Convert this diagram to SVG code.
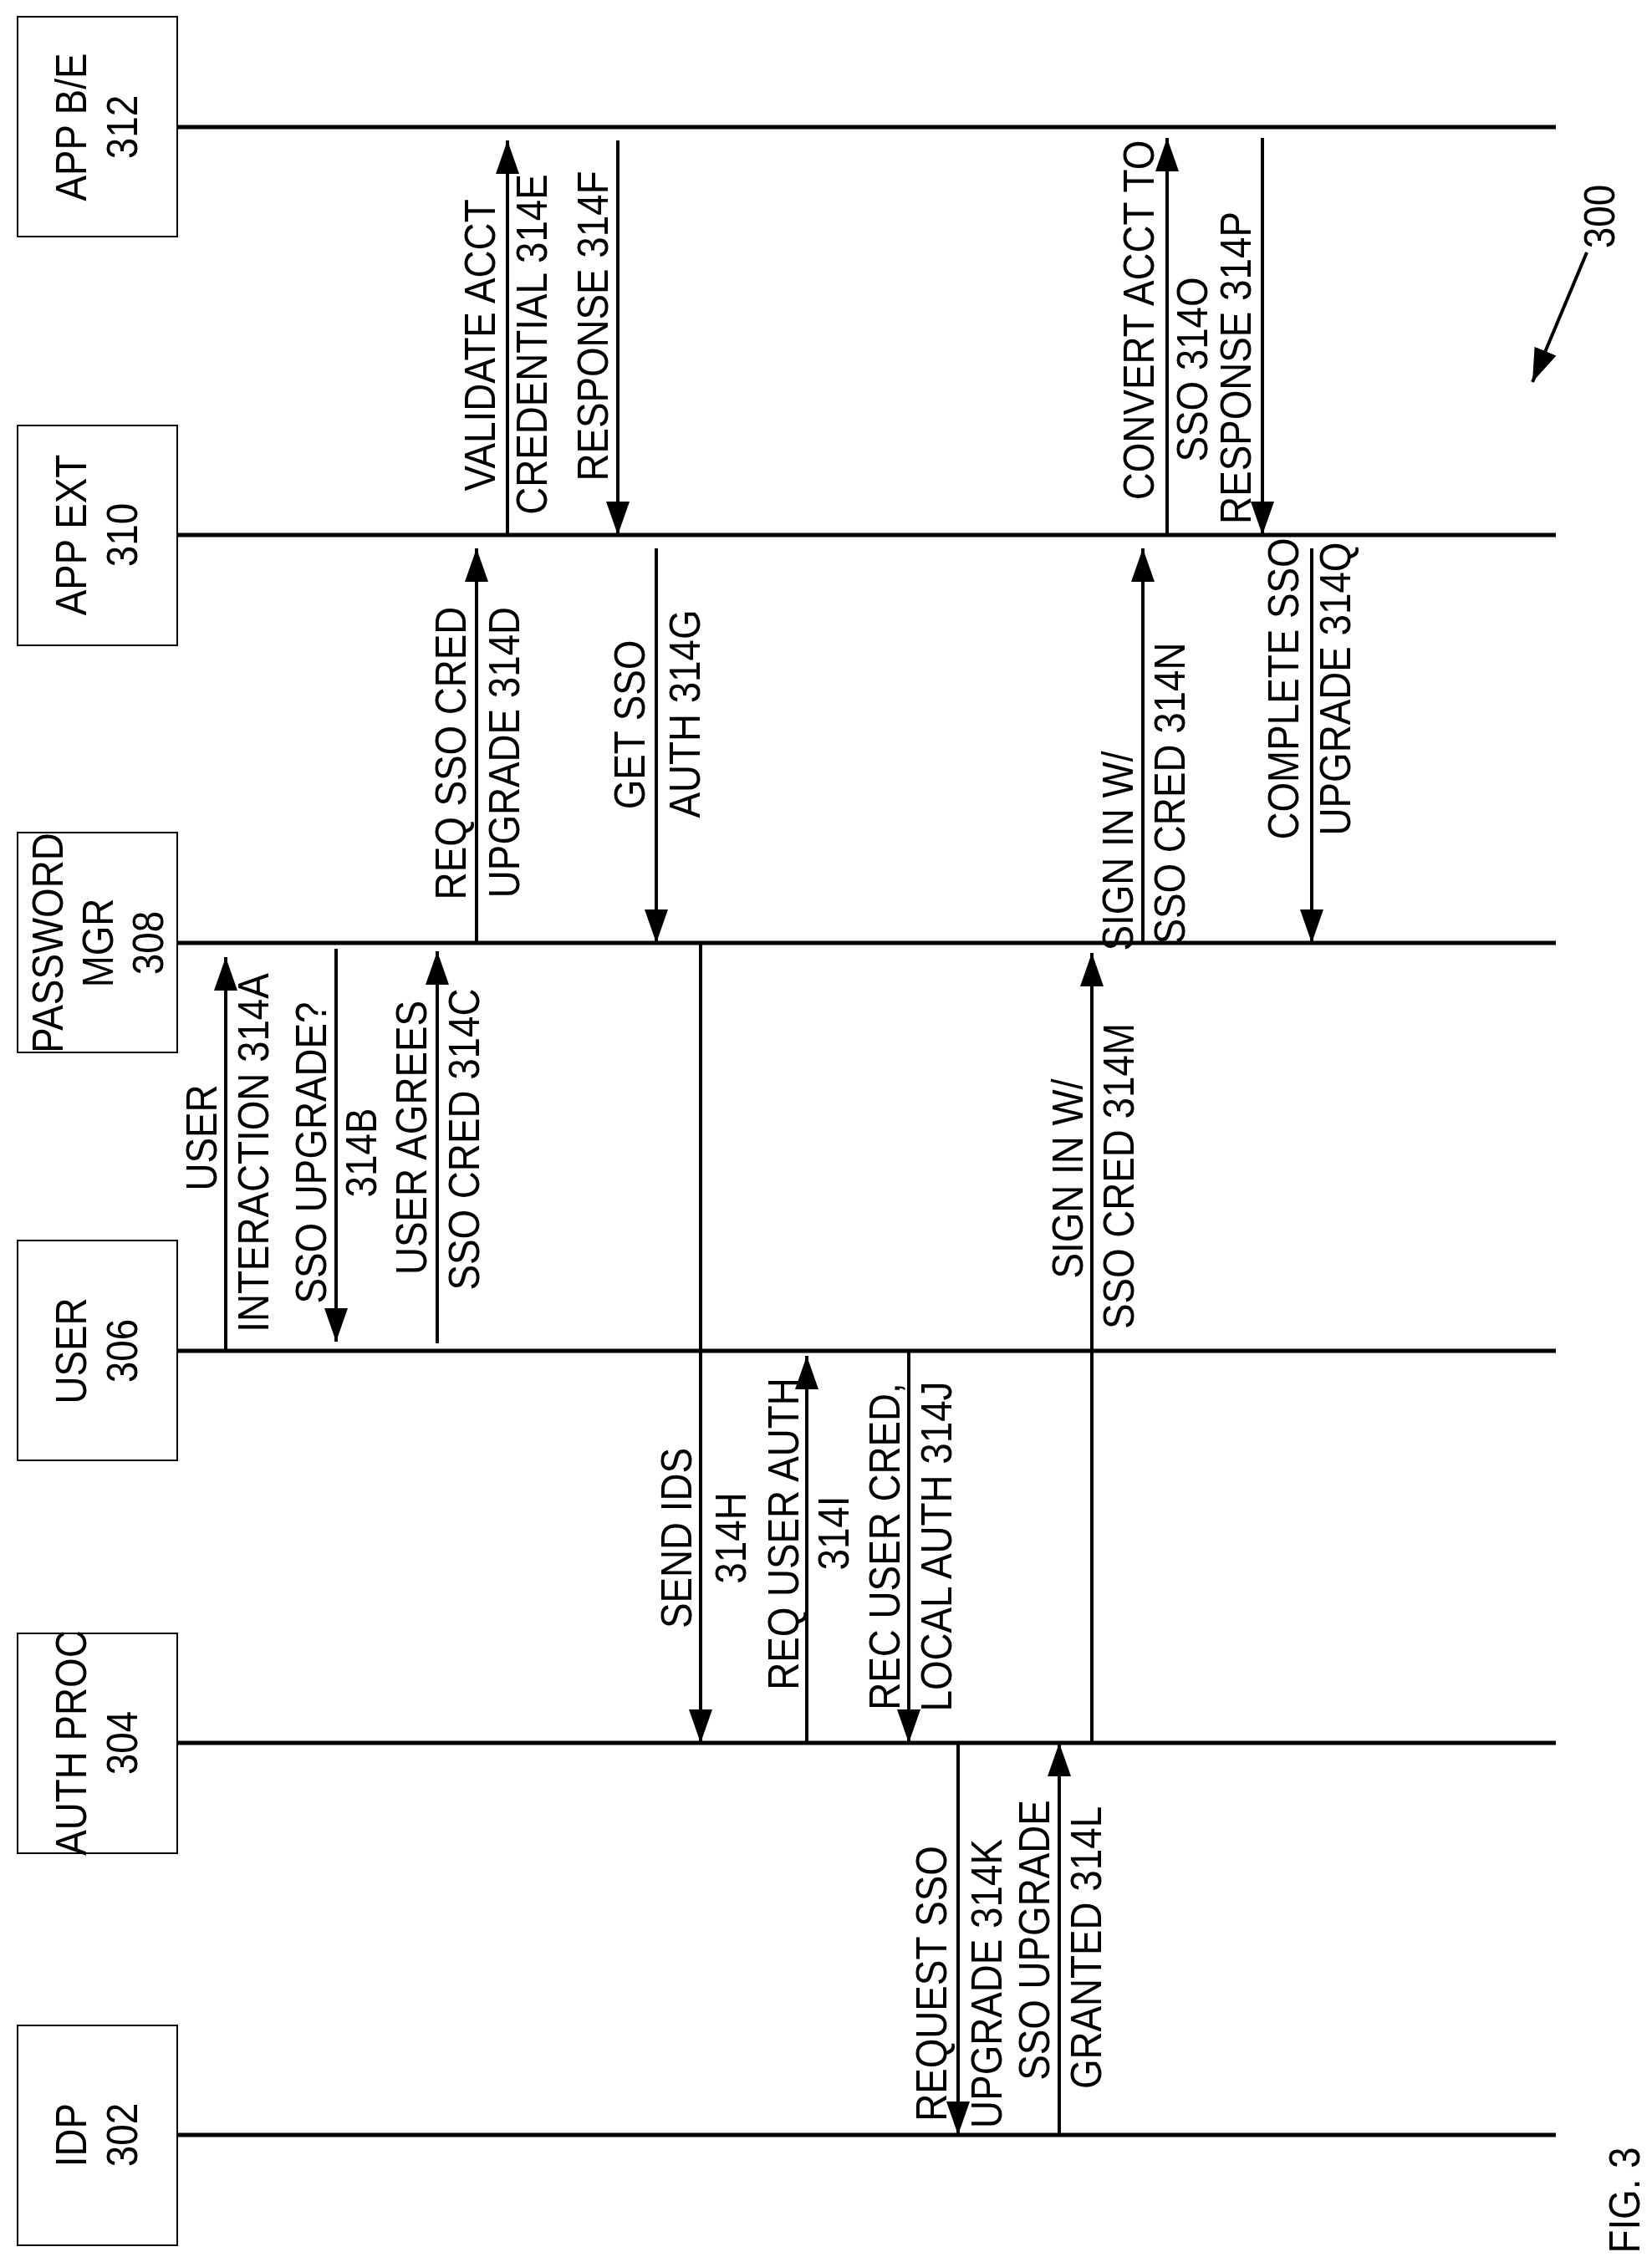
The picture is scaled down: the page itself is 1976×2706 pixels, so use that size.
<svg xmlns="http://www.w3.org/2000/svg" width="1976" height="2706" viewBox="0 0 1976 2706">
<style>
text{font-family:"Liberation Sans",Arial,sans-serif;font-size:52px;fill:#000;text-anchor:middle}
.box{fill:#fff;stroke:#000;stroke-width:2}
.life{stroke:#000;stroke-width:5}
.msg{stroke:#000;stroke-width:4;fill:none;marker-end:url(#ah)}
</style>
<defs>
<marker id="ah" markerUnits="userSpaceOnUse" markerWidth="40" markerHeight="28" refX="40" refY="14" orient="auto" viewBox="0 0 40 28"><path d="M0,0 L40,14 L0,28 z" fill="#000"/></marker>
</defs>
<rect width="1976" height="2706" fill="#fff"/>
<g id="n312"><rect class="box" x="21" y="20" width="191" height="263"/>
<text transform="translate(103,152) rotate(-90) scale(0.88,1)">APP B/E</text>
<text transform="translate(164,152) rotate(-90) scale(0.88,1)">312</text></g>
<g id="n310"><rect class="box" x="21" y="509" width="191" height="263"/>
<text transform="translate(103,640) rotate(-90) scale(0.88,1)">APP EXT</text>
<text transform="translate(164,640) rotate(-90) scale(0.88,1)">310</text></g>
<g id="n308"><rect class="box" x="21" y="996" width="191" height="263"/>
<text transform="translate(75,1128) rotate(-90) scale(0.88,1)">PASSWORD</text>
<text transform="translate(135,1128) rotate(-90) scale(0.88,1)">MGR</text>
<text transform="translate(195,1128) rotate(-90) scale(0.88,1)">308</text></g>
<g id="n306"><rect class="box" x="21" y="1484" width="191" height="263"/>
<text transform="translate(103,1616) rotate(-90) scale(0.88,1)">USER</text>
<text transform="translate(164,1616) rotate(-90) scale(0.88,1)">306</text></g>
<g id="n304"><rect class="box" x="21" y="1954" width="191" height="263"/>
<text transform="translate(103,2085) rotate(-90) scale(0.88,1)">AUTH PROC</text>
<text transform="translate(164,2085) rotate(-90) scale(0.88,1)">304</text></g>
<g id="n302"><rect class="box" x="21" y="2423" width="191" height="263"/>
<text transform="translate(103,2554) rotate(-90) scale(0.88,1)">IDP</text>
<text transform="translate(164,2554) rotate(-90) scale(0.88,1)">302</text></g>
<g id="lifelines">
<line class="life" x1="212" y1="152" x2="1861" y2="152"/>
<line class="life" x1="212" y1="640" x2="1861" y2="640"/>
<line class="life" x1="212" y1="1128" x2="1861" y2="1128"/>
<line class="life" x1="212" y1="1616" x2="1861" y2="1616"/>
<line class="life" x1="212" y1="2085" x2="1861" y2="2085"/>
<line class="life" x1="212" y1="2554" x2="1861" y2="2554"/>
</g>
<g id="connectors">
<line class="msg" x1="607" y1="640" x2="607" y2="168"/>
<line class="msg" x1="739" y1="168" x2="739" y2="640"/>
<line class="msg" x1="1396" y1="640" x2="1396" y2="165"/>
<line class="msg" x1="1510" y1="165" x2="1510" y2="640"/>
<line class="msg" x1="570" y1="1128" x2="570" y2="656"/>
<line class="msg" x1="785" y1="656" x2="785" y2="1128"/>
<line class="msg" x1="1367" y1="1128" x2="1367" y2="656"/>
<line class="msg" x1="1569" y1="656" x2="1569" y2="1128"/>
<line class="msg" x1="270" y1="1616" x2="270" y2="1145"/>
<line class="msg" x1="402" y1="1135" x2="402" y2="1605"/>
<line class="msg" x1="523" y1="1607" x2="523" y2="1138"/>
<line class="msg" x1="838" y1="1128" x2="838" y2="2085"/>
<line class="msg" x1="965" y1="2085" x2="965" y2="1622"/>
<line class="msg" x1="1087" y1="1616" x2="1087" y2="2085"/>
<line class="msg" x1="1306" y1="2085" x2="1306" y2="1140"/>
<line class="msg" x1="1146" y1="2085" x2="1146" y2="2554"/>
<line class="msg" x1="1267" y1="2554" x2="1267" y2="2085"/>
<line class="msg" x1="1898" y1="302" x2="1833" y2="457"/>
</g>
<g id="labels">
<text transform="translate(592,413) rotate(-90) scale(0.88,1)">VALIDATE ACCT</text>
<text transform="translate(654,412) rotate(-90) scale(0.88,1)">CREDENTIAL 314E</text>
<text transform="translate(727,390) rotate(-90) scale(0.88,1)">RESPONSE 314F</text>
<text transform="translate(1380,383) rotate(-90) scale(0.88,1)">CONVERT ACCT TO</text>
<text transform="translate(1444,442) rotate(-90) scale(0.88,1)">SSO 314O</text>
<text transform="translate(1496,440) rotate(-90) scale(0.88,1)">RESPONSE 314P</text>
<text transform="translate(557,901) rotate(-90) scale(0.88,1)">REQ SSO CRED</text>
<text transform="translate(621,900) rotate(-90) scale(0.88,1)">UPGRADE 314D</text>
<text transform="translate(771,867) rotate(-90) scale(0.88,1)">GET SSO</text>
<text transform="translate(837,854) rotate(-90) scale(0.88,1)">AUTH 314G</text>
<text transform="translate(1355,1018) rotate(-90) scale(0.88,1)">SIGN IN W/</text>
<text transform="translate(1417,949) rotate(-90) scale(0.88,1)">SSO CRED 314N</text>
<text transform="translate(1553,824) rotate(-90) scale(0.88,1)">COMPLETE SSO</text>
<text transform="translate(1615,824) rotate(-90) scale(0.88,1)">UPGRADE 314Q</text>
<text transform="translate(259,1361) rotate(-90) scale(0.88,1)">USER</text>
<text transform="translate(321,1379) rotate(-90) scale(0.88,1)">INTERACTION 314A</text>
<text transform="translate(390,1379) rotate(-90) scale(0.88,1)">SSO UPGRADE?</text>
<text transform="translate(450,1379) rotate(-90) scale(0.88,1)">314B</text>
<text transform="translate(510,1361) rotate(-90) scale(0.88,1)">USER AGREES</text>
<text transform="translate(573,1363) rotate(-90) scale(0.88,1)">SSO CRED 314C</text>
<text transform="translate(827,1840) rotate(-90) scale(0.88,1)">SEND IDS</text>
<text transform="translate(892,1840) rotate(-90) scale(0.88,1)">314H</text>
<text transform="translate(955,1835) rotate(-90) scale(0.88,1)">REQ USER AUTH</text>
<text transform="translate(1015,1834) rotate(-90) scale(0.88,1)">314I</text>
<text transform="translate(1076,1850) rotate(-90) scale(0.88,1)">REC USER CRED,</text>
<text transform="translate(1138,1850) rotate(-90) scale(0.88,1)">LOCAL AUTH 314J</text>
<text transform="translate(1295,1410) rotate(-90) scale(0.88,1)">SIGN IN W/</text>
<text transform="translate(1356,1407) rotate(-90) scale(0.88,1)">SSO CRED 314M</text>
<text transform="translate(1132,2373) rotate(-90) scale(0.88,1)">REQUEST SSO</text>
<text transform="translate(1198,2373) rotate(-90) scale(0.88,1)">UPGRADE 314K</text>
<text transform="translate(1255,2321) rotate(-90) scale(0.88,1)">SSO UPGRADE</text>
<text transform="translate(1317,2330) rotate(-90) scale(0.88,1)">GRANTED 314L</text>
<text transform="translate(1931,259) rotate(-90) scale(0.88,1)">300</text>
<text transform="translate(1961,2632) rotate(-90) scale(0.88,1)">FIG. 3</text>
</g>
</svg>
